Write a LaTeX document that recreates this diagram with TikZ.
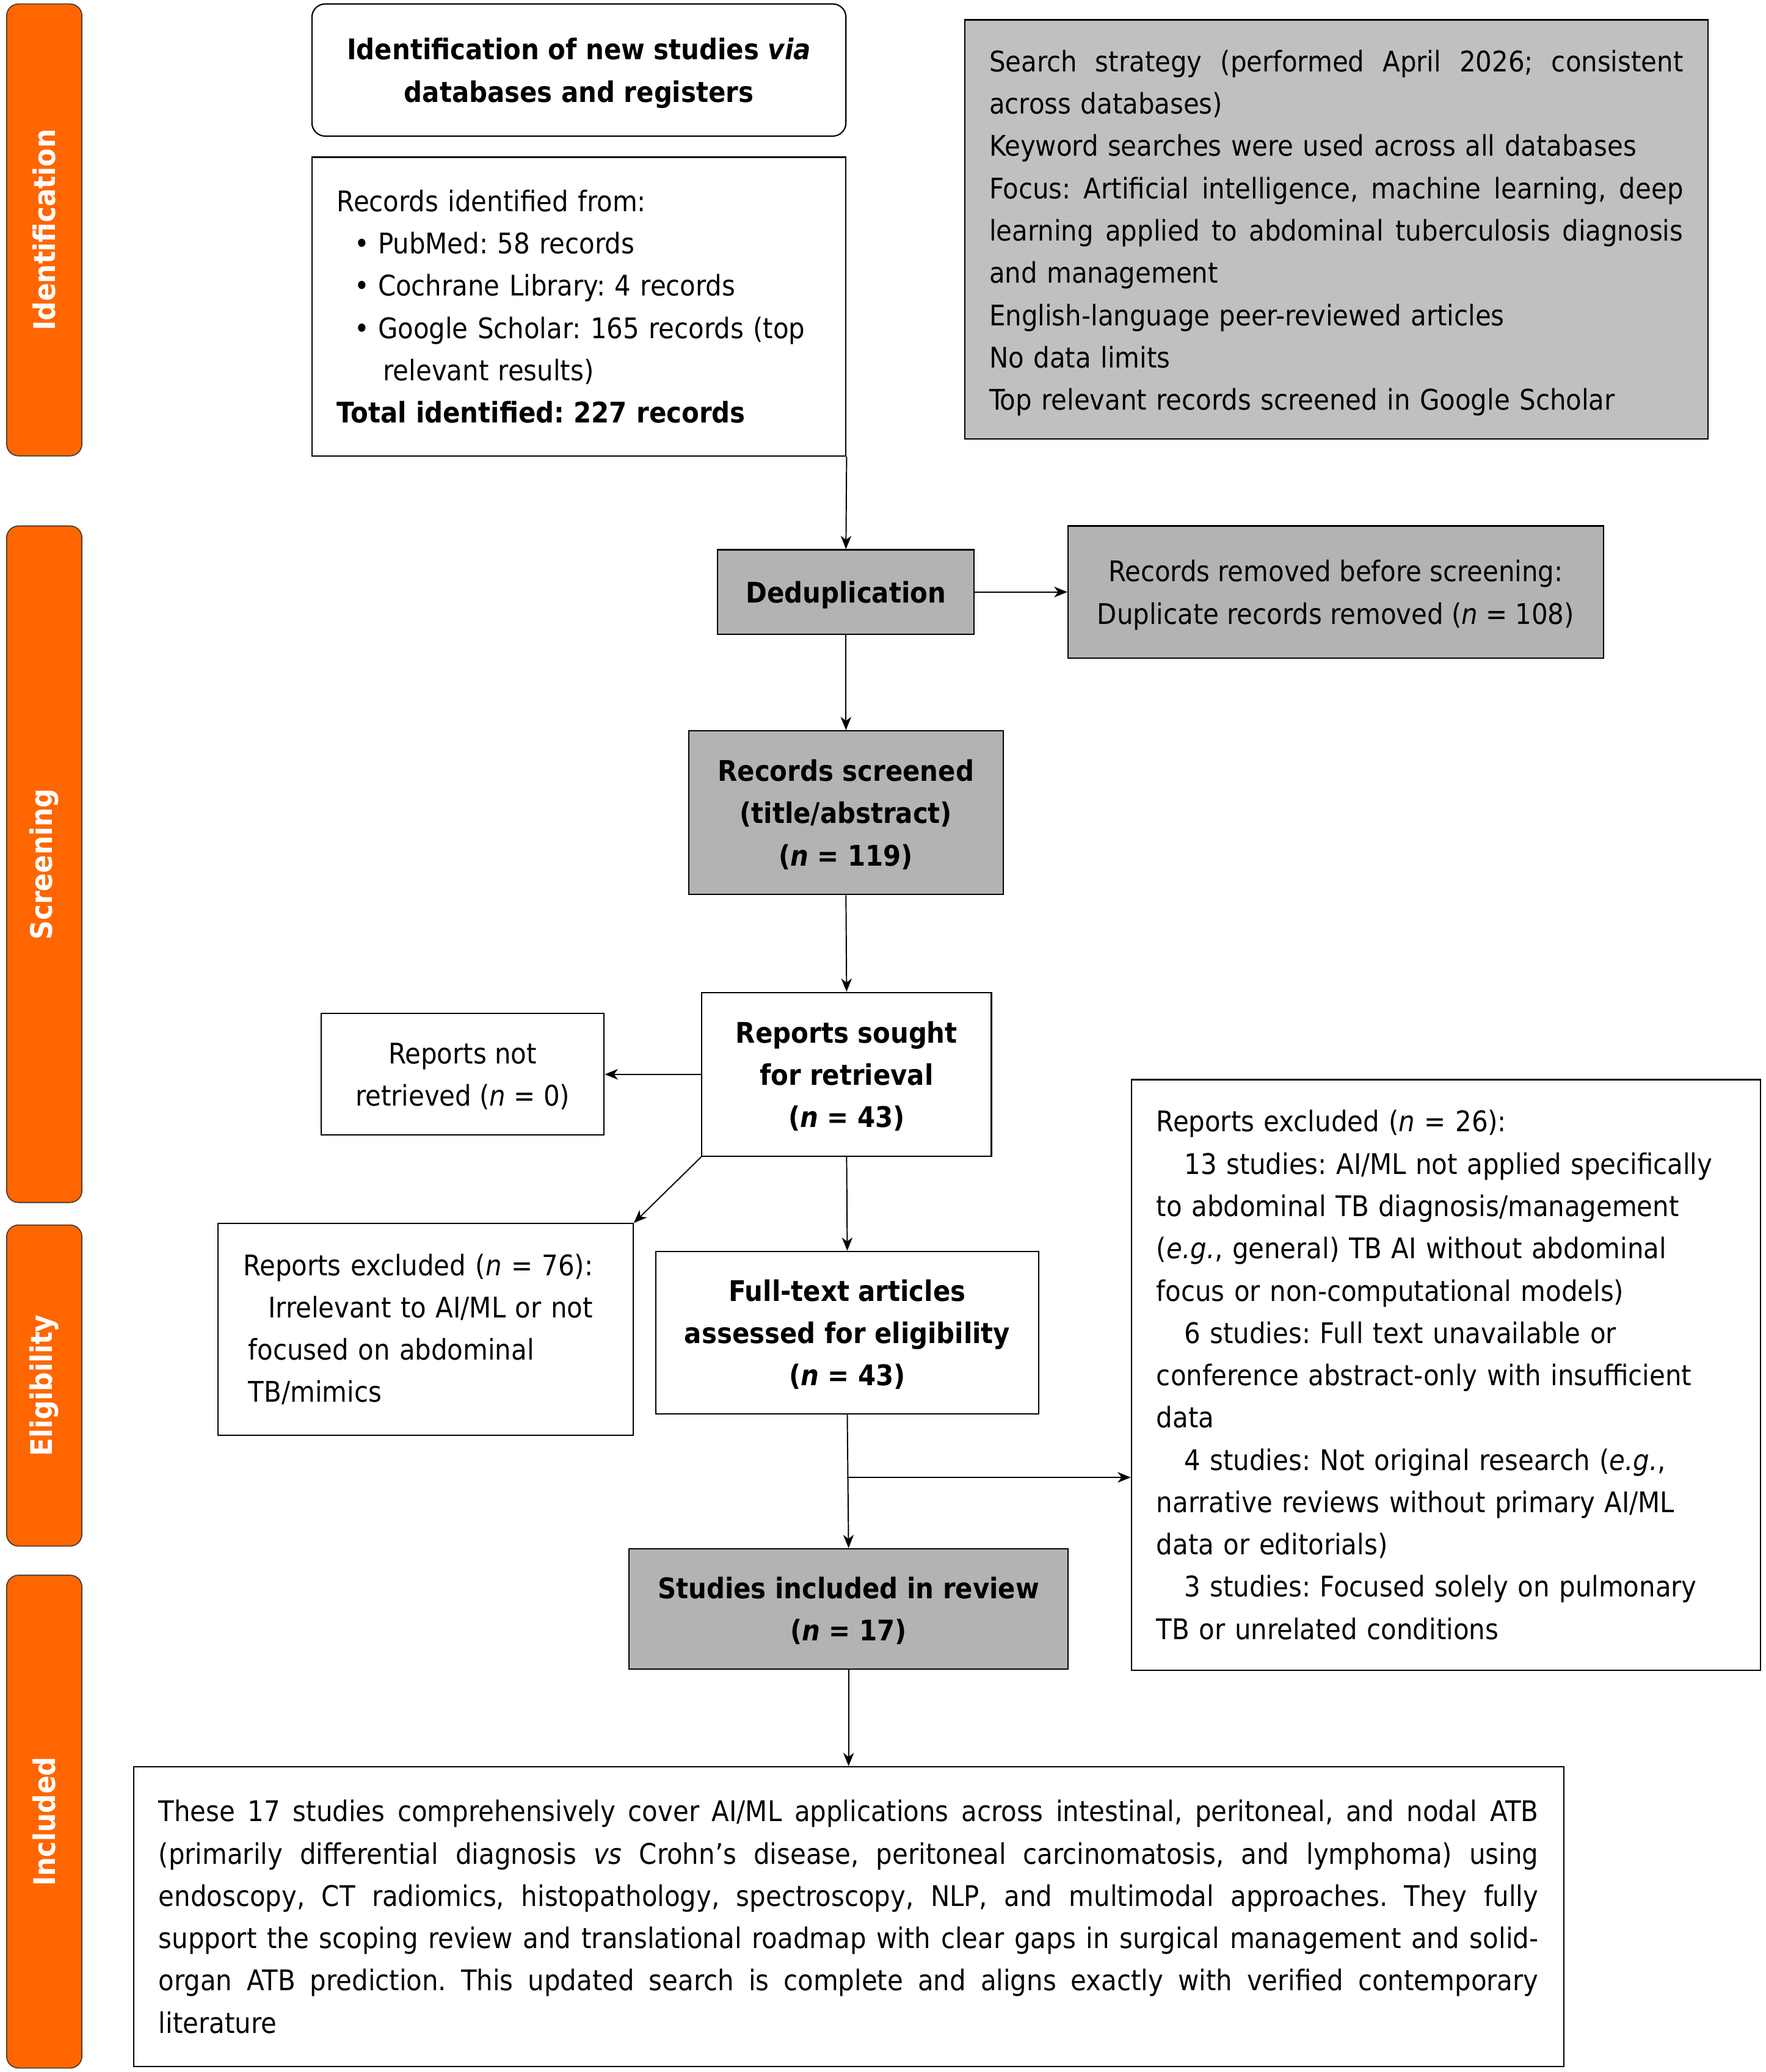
\documentclass[tikz,border=0pt]{standalone}
\usepackage{fontspec}
\setmainfont{DejaVu Sans Condensed}
\usetikzlibrary{arrows.meta}
\definecolor{orng}{RGB}{255,102,0}
\definecolor{gA}{RGB}{179,179,179}
\definecolor{gB}{RGB}{192,192,192}
\newcommand\jline[2]{\makebox[#1][s]{\spaceskip=\fontdimen2\font plus 1fil\relax #2}}
\begin{document}
\begin{tikzpicture}[x=1pt,y=-1pt,
  every node/.style={font=\fontsize{21.5}{32}\selectfont\frenchspacing, inner sep=0pt},
  wbox/.style={draw=black, line width=1pt, fill=white, rectangle},
  gbox/.style={draw=black, line width=1pt, fill=gA, rectangle},
  bold/.style={font=\fontsize{21.5}{32}\selectfont\frenchspacing\bfseries},
  phase/.style={draw=black!80, line width=0.7pt, fill=orng, rectangle, rounded corners=9pt,
     rotate=90, text=white, font=\fontsize{22.5}{28}\selectfont\bfseries, minimum height=57pt},
  conn/.style={draw=black, line width=0.9pt, -{Stealth[length=10pt,width=8pt,inset=3pt]}}
]
\useasboundingbox (0,0) rectangle (1336,1568);

% phase bars
\node[phase, minimum width=342pt] (pI) at (33.5,174) {Identification};
\node[phase, minimum width=512pt] (pS) at (33.5,654) {Screening};
\node[phase, minimum width=243pt] (pE) at (33.5,1048.5) {Eligibility};
\node[phase, minimum width=373pt] (pN) at (33.5,1378.5) {Included};

% identification
\node[wbox, bold, rounded corners=10pt, minimum width=404pt, minimum height=100pt, align=center, text depth=0pt] (title) at (438,53)
  {Identification of new studies \textit{via}\\databases and registers};

\node[wbox, minimum width=404pt, minimum height=226pt, text width=366pt, align=left] (ident) at (438,232)
  {Records identified from:\\
   \hspace*{13pt}\makebox[18pt][l]{\textbullet}PubMed: 58 records\\
   \hspace*{13pt}\makebox[18pt][l]{\textbullet}Cochrane Library: 4 records\\
   \hspace*{13pt}\makebox[18pt][l]{\textbullet}Google Scholar: 165 records (top\\
   \hspace*{35pt}relevant results)\\
   \textbf{Total identified: 227 records}};

\node[wbox, fill=gB, minimum width=562pt, minimum height=317pt, text width=525pt, align=left, text height=22pt] (search) at (1011,173.5)
  {\jline{525pt}{Search strategy (performed April 2026; consistent}\\
   across databases)\\
   Keyword searches were used across all databases\\
   \jline{525pt}{Focus: Artificial intelligence, machine learning, deep}\\
   \jline{525pt}{learning applied to abdominal tuberculosis diagnosis}\\
   and management\\
   English-language peer-reviewed articles\\
   No data limits\\
   Top relevant records screened in Google Scholar};

% screening
\node[gbox, bold, minimum width=194pt, minimum height=64pt, text depth=0pt] (dedup) at (640,448) {Deduplication};

\node[gbox, minimum width=405pt, minimum height=100pt, align=center, text depth=0pt] (removed) at (1010.5,448)
  {Records removed before screening:\\Duplicate records removed (\textit{n} = 108)};

\node[gbox, bold, minimum width=238pt, minimum height=124pt, align=center, text depth=0pt] (screened) at (640,615)
  {Records screened\\(title/abstract)\\(\textit{n} = 119)};

\node[wbox, bold, minimum width=219pt, minimum height=124pt, align=center, text depth=0pt] (sought) at (640.5,813)
  {Reports sought\\for retrieval\\(\textit{n} = 43)};

\node[wbox, minimum width=214pt, minimum height=92pt, align=center, text depth=0pt] (notret) at (350,813)
  {Reports not\\retrieved (\textit{n} = 0)};

% eligibility
\node[wbox, minimum width=314pt, minimum height=160pt, text width=276pt, align=left] (excla) at (322,1006)
  {Reports excluded (\textit{n} = 76):\\
   \hspace*{19pt}Irrelevant to AI/ML or not\\
   \hspace*{4pt}focused on abdominal\\
   \hspace*{4pt}TB/mimics};

\node[wbox, bold, minimum width=290pt, minimum height=123pt, align=center, text depth=0pt] (fulltext) at (641,1008.5)
  {Full-text articles\\assessed for eligibility\\(\textit{n} = 43)};

\node[wbox, minimum width=476pt, minimum height=447pt, text width=438pt, align=left] (exclb) at (1094,1040.5)
  {Reports excluded (\textit{n} = 26):\\
   \hspace*{21pt}13 studies: AI/ML not applied specifically\\
   to abdominal TB diagnosis/management\\
   (\textit{e.g.}, general) TB AI without abdominal\\
   focus or non-computational models)\\
   \hspace*{21pt}6 studies: Full text unavailable or\\
   conference abstract-only with insufficient\\
   data\\
   \hspace*{21pt}4 studies: Not original research (\textit{e.g.},\\
   narrative reviews without primary AI/ML\\
   data or editorials)\\
   \hspace*{21pt}3 studies: Focused solely on pulmonary\\
   TB or unrelated conditions};

% included
\node[gbox, bold, minimum width=332pt, minimum height=91pt, align=center, text depth=0pt] (incl) at (642,1217.5)
  {Studies included in review\\(\textit{n} = 17)};

\node[wbox, minimum width=1082pt, minimum height=227pt, text width=1044pt, align=left] (final) at (642,1450.5)
  {\jline{1044pt}{These 17 studies comprehensively cover AI/ML applications across intestinal, peritoneal, and nodal ATB}\\
   \jline{1044pt}{(primarily differential diagnosis \textit{vs} Crohn’s disease, peritoneal carcinomatosis, and lymphoma) using}\\
   \jline{1044pt}{endoscopy, CT radiomics, histopathology, spectroscopy, NLP, and multimodal approaches. They fully}\\
   \jline{1044pt}{support the scoping review and translational roadmap with clear gaps in surgical management and solid-}\\
   \jline{1044pt}{organ ATB prediction. This updated search is complete and aligns exactly with verified contemporary}\\
   literature};

% connectors
\draw[conn] (ident.south east) -- (dedup.north);
\draw[conn] (dedup.east) -- (removed.west);
\draw[conn] (dedup.south) -- (screened.north);
\draw[conn] (screened.south) -- (sought.north);
\draw[conn] (sought.west) -- (notret.east);
\draw[conn] (sought.south west) -- (excla.north east);
\draw[conn] (sought.south) -- (fulltext.north);
\draw[conn] (fulltext.south) -- (incl.north);
\coordinate (branch) at (fulltext.south |- 0,1118);
\draw[conn] (branch) -- (branch -| exclb.west);
\draw[conn] (incl.south) -- (final.north);
\end{tikzpicture}
\end{document}
